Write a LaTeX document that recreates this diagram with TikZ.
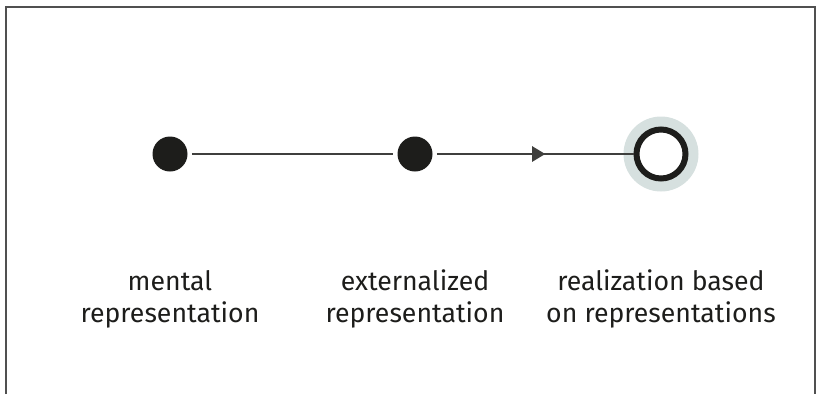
\documentclass[tikz,border=0pt]{standalone}
\usepackage{fontspec}
\setmainfont{Fira Sans}
\usetikzlibrary{arrows.meta, decorations.markings}

\definecolor{dotblack}{HTML}{1D1D1B}
\definecolor{halogray}{HTML}{D6E0DF}
\definecolor{framegray}{HTML}{505050}

\begin{document}
\begin{tikzpicture}[x=0.75pt,y=-0.75pt,
  stagedot/.style={circle,fill=dotblack,inner sep=0pt,minimum size=26.25pt},
  stagetext/.style={align=center,inner sep=0pt,font=\fontsize{20}{24}\selectfont,text=dotblack},
  midarrow/.style={postaction={decorate},decoration={markings,
    mark=at position 0.56 with {\arrow{Triangle[length=9.75pt,width=11.5pt]}}}}]
  \useasboundingbox (0,0) rectangle (818,394);
  \draw[framegray, line width=1.1pt] (6,394) -- (6,7) -- (815,7) -- (815,394);
  \node[stagedot] (M) at (170,154) {};
  \node[stagedot] (E) at (415,154) {};
  \node[circle,fill=halogray,inner sep=0pt,minimum size=56.25pt] (H) at (661,154) {};
  \node[circle,draw=dotblack,fill=white,line width=4.5pt,inner sep=0pt,minimum size=36.75pt] (R) at (661,154) {};
  \draw[dotblack!85, line width=1.1pt, shorten <=3pt, shorten >=3pt] (M) -- (E);
  \draw[dotblack!85, line width=1.1pt, shorten <=3pt, midarrow] (E) -- (R);
  \node[stagetext] (TM) at (170,299) {mental\\representation};
  \node[stagetext] (TE) at (415,299) {externalized\\representation};
  \node[stagetext] (TR) at (661,299) {realization based\\on representations};
\end{tikzpicture}
\end{document}
